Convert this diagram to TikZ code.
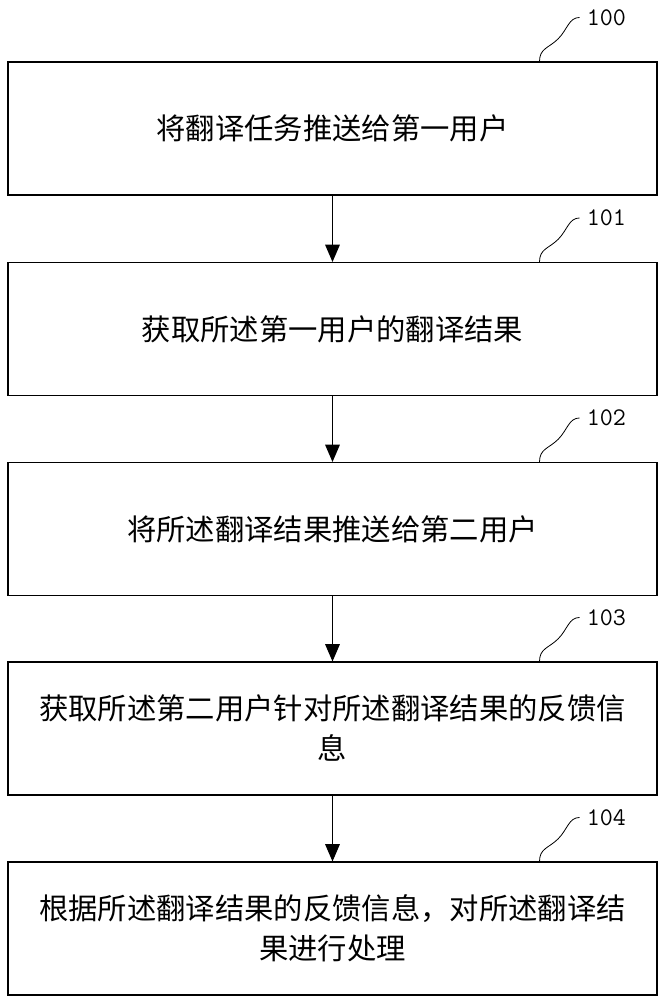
\documentclass[tikz,border=0pt]{standalone}
\usepackage{fontspec}
\newfontfamily\cjk{Noto Sans CJK SC}
\usetikzlibrary{arrows.meta}
\tikzset{
  stepbox/.style={draw, thick, minimum width=486.75pt, minimum height=99.75pt, text width=480pt, align=center, font=\cjk\fontsize{22}{30}\selectfont, inner sep=0pt},
  tag/.style={font=\fontsize{19}{22}\selectfont\ttfamily, anchor=west},
  flow/.style={-{Triangle[length=13pt,width=11pt]}, thick},
  hook/.style={semithick}
}
\begin{document}
\begin{tikzpicture}[x=0.75pt,y=-0.75pt]
\useasboundingbox (0,0) rectangle (665,1000);

\node[stepbox] (s0) at (332.5,128.5) {将翻译任务推送给第一用户};
\node[stepbox] (s1) at (332.5,329) {获取所述第一用户的翻译结果};
\node[stepbox] (s2) at (332.5,529) {将所述翻译结果推送给第二用户};
\node[stepbox] (s3) at (332.5,728.5) {获取所述第二用户针对所述翻译结果的反馈信\\息};
\node[stepbox] (s4) at (332.5,928.5) {根据所述翻译结果的反馈信息，对所述翻译结\\果进行处理};

\draw[flow] (s0) -- (s1);
\draw[flow] (s1) -- (s2);
\draw[flow] (s2) -- (s3);
\draw[flow] (s3) -- (s4);

\foreach \k/\lbl in {0/100,1/101,2/102,3/103,4/104}{
  \coordinate (h\k) at ([xshift=155.25pt]s\k.north);
  \coordinate (m\k) at ([xshift=14pt,yshift=17pt]h\k);
  \coordinate (t\k) at ([xshift=30pt,yshift=33pt]h\k);
  \draw[hook] (h\k) .. controls +(0,10pt) and +(-7pt,-7pt) .. (m\k)
    .. controls +(7pt,7pt) and +(-8pt,0) .. (t\k);
  \node[tag] (n\k) at ([xshift=2pt]t\k) {\lbl};
}
\end{tikzpicture}
\end{document}
